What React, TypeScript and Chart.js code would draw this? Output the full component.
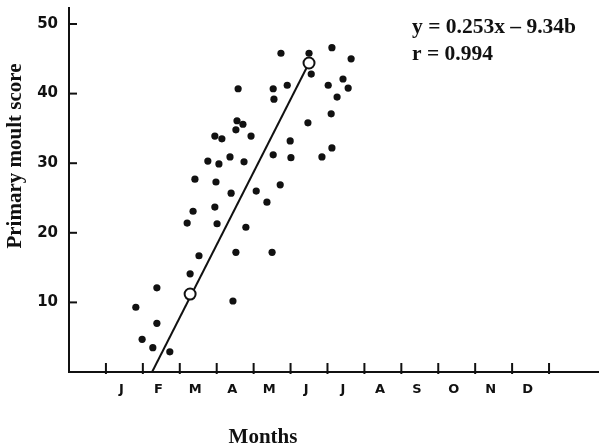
import React, { useEffect, useRef } from 'react';
import { Chart, registerables } from 'chart.js';

Chart.register(...registerables);

// ---- data ----
const MONTHS = ['J', 'F', 'M', 'A', 'M', 'J', 'J', 'A', 'S', 'O', 'N', 'D'];
const MONTH_BOUNDARIES = [0, 1, 2, 3, 4, 5, 6, 7, 8, 9, 10, 11, 12];
const Y_TICKS = [10, 20, 30, 40, 50];

const OBS_X = [
  0.81, 0.98, 1.27, 1.38, 1.38, 1.73, 2.28, 2.52, 2.2, 3.01, 2.36, 2.95, 2.41,
  2.98, 2.76, 3.06, 2.95, 3.14, 3.36, 3.74, 3.52, 3.55, 3.71, 3.58, 3.93, 3.39,
  4.07, 4.36, 3.79, 3.52, 3.44, 4.5, 4.72, 4.53, 4.99, 5.01, 4.53, 4.55, 4.91,
  4.74, 5.5, 5.56, 6.12, 6.64, 6.02, 6.42, 6.56, 6.26, 6.1, 5.47, 5.85, 6.12,
];
const OBS_Y = [
  9.3, 4.7, 3.5, 7.0, 12.1, 2.9, 14.1, 16.7, 21.4, 21.3, 23.1, 23.7, 27.7,
  27.3, 30.3, 29.9, 33.9, 33.5, 30.9, 30.2, 34.8, 36.1, 35.6, 40.7, 33.9, 25.7,
  26.0, 24.4, 20.8, 17.2, 10.2, 17.2, 26.9, 31.2, 33.2, 30.8, 40.7, 39.2, 41.2,
  45.8, 45.8, 42.8, 46.6, 45.0, 41.2, 42.1, 40.8, 39.5, 37.1, 35.8, 30.9, 32.2,
];

const FIT_X = [1.25, 5.5];
const FIT_Y = [0, 44.4];

const MEAN_X = [2.28, 5.5];
const MEAN_Y = [11.2, 44.4];

const EQUATION = ['y = 0.253x \u2013 9.34b', 'r = 0.994'];
const X_TITLE = 'Months';
const Y_TITLE = 'Primary moult score';

const INK = '#111111';
const SERIF = '"Liberation Serif", "Times New Roman", serif';
const SANS = '"DejaVu Sans", "Liberation Sans", sans-serif';

const toPoints = (xs: number[], ys: number[]) => xs.map((x, i) => ({ x, y: ys[i] }));

const zeroPadding = (scale: any) => {
  scale.paddingLeft = 0;
  scale.paddingRight = 0;
  scale.paddingTop = 0;
  scale.paddingBottom = 0;
};

const decorations = {
  id: 'decorations',
  beforeDatasetsDraw(chart: any) {
    const { ctx, chartArea, scales } = chart;
    const x = scales.x;
    const y = scales.y;
    ctx.save();
    ctx.strokeStyle = INK;
    ctx.lineWidth = 2;
    // axis line continues to the right edge of the figure
    ctx.beginPath();
    ctx.moveTo(chartArea.right - 1, chartArea.bottom);
    ctx.lineTo(chart.width, chartArea.bottom);
    ctx.stroke();
    // inward tick marks
    for (const m of MONTH_BOUNDARIES) {
      const px = x.getPixelForValue(m);
      ctx.beginPath();
      ctx.moveTo(px, chartArea.bottom - 9);
      ctx.lineTo(px, chartArea.bottom + 2);
      ctx.stroke();
    }
    for (const v of Y_TICKS) {
      const py = y.getPixelForValue(v);
      ctx.beginPath();
      ctx.moveTo(chartArea.left, py);
      ctx.lineTo(chartArea.left + 8, py);
      ctx.stroke();
    }
    ctx.restore();
  },
  afterDraw(chart: any) {
    const { ctx } = chart;
    ctx.save();
    ctx.fillStyle = INK;
    // equation
    ctx.font = `bold 21.5px ${SERIF}`;
    ctx.textAlign = 'left';
    ctx.textBaseline = 'alphabetic';
    ctx.fillText(EQUATION[0], 412, 33);
    ctx.fillText(EQUATION[1], 412, 60);
    // x title
    ctx.font = `bold 21px ${SERIF}`;
    ctx.textAlign = 'center';
    ctx.fillText(X_TITLE, 263, 443);
    // y title
    ctx.translate(16, 156);
    ctx.rotate(-Math.PI / 2);
    ctx.textBaseline = 'middle';
    ctx.fillText(Y_TITLE, 0, 0);
    ctx.restore();
  },
};

export default function App() {
  const ref = useRef<HTMLCanvasElement | null>(null);

  useEffect(() => {
    document.body.style.margin = '0';
    const canvas = ref.current;
    if (!canvas) return;
    const chart = new Chart(canvas, {
      type: 'scatter',
      data: {
        datasets: [
          {
            label: 'means',
            data: toPoints(MEAN_X, MEAN_Y),
            pointRadius: 5.5,
            pointBorderWidth: 2,
            pointBorderColor: INK,
            pointBackgroundColor: '#ffffff',
            showLine: false,
          },
          {
            label: 'regression',
            type: 'line',
            data: toPoints(FIT_X, FIT_Y),
            borderColor: INK,
            borderWidth: 2,
            pointRadius: 0,
            fill: false,
          } as any,
          {
            label: 'birds',
            data: toPoints(OBS_X, OBS_Y),
            pointRadius: 3.6,
            pointBorderWidth: 0,
            pointBackgroundColor: INK,
            pointBorderColor: INK,
          },
        ],
      },
      options: {
        animation: false,
        responsive: false,
        layout: { padding: { top: 8, right: 0, bottom: 0, left: 0 } },
        plugins: { legend: { display: false }, tooltip: { enabled: false } },
        scales: {
          x: {
            type: 'linear',
            min: -1,
            max: 13.15,
            grid: { display: false, drawTicks: false },
            border: { display: true, color: INK, width: 2 },
            afterBuildTicks: (scale: any) => {
              scale.ticks = MONTHS.map((_, i) => ({ value: i + 0.42 }));
            },
            afterFit: (scale: any) => {
              scale.height = 74;
              zeroPadding(scale);
            },
            ticks: {
              color: INK,
              padding: 10,
              font: { family: SANS, size: 13, weight: 'bold' },
              callback: (_v: any, i: number) => MONTHS[i],
            },
          },
          y: {
            type: 'linear',
            min: 0,
            max: 52.3,
            grid: { display: false, drawTicks: false },
            border: { display: true, color: INK, width: 2 },
            afterBuildTicks: (scale: any) => {
              scale.ticks = Y_TICKS.map((v) => ({ value: v }));
            },
            afterFit: (scale: any) => {
              scale.width = 69;
              zeroPadding(scale);
            },
            ticks: {
              color: INK,
              padding: 11,
              font: { family: SANS, size: 15, weight: 'bold' },
              callback: (v: any) => String(v),
            },
          },
        },
      },
      plugins: [decorations],
    } as any);
    return () => chart.destroy();
  }, []);

  return (
    <div style={{ width: 599, height: 446, background: '#ffffff' }}>
      <canvas ref={ref} width={599} height={446} style={{ display: 'block' }} />
    </div>
  );
}
